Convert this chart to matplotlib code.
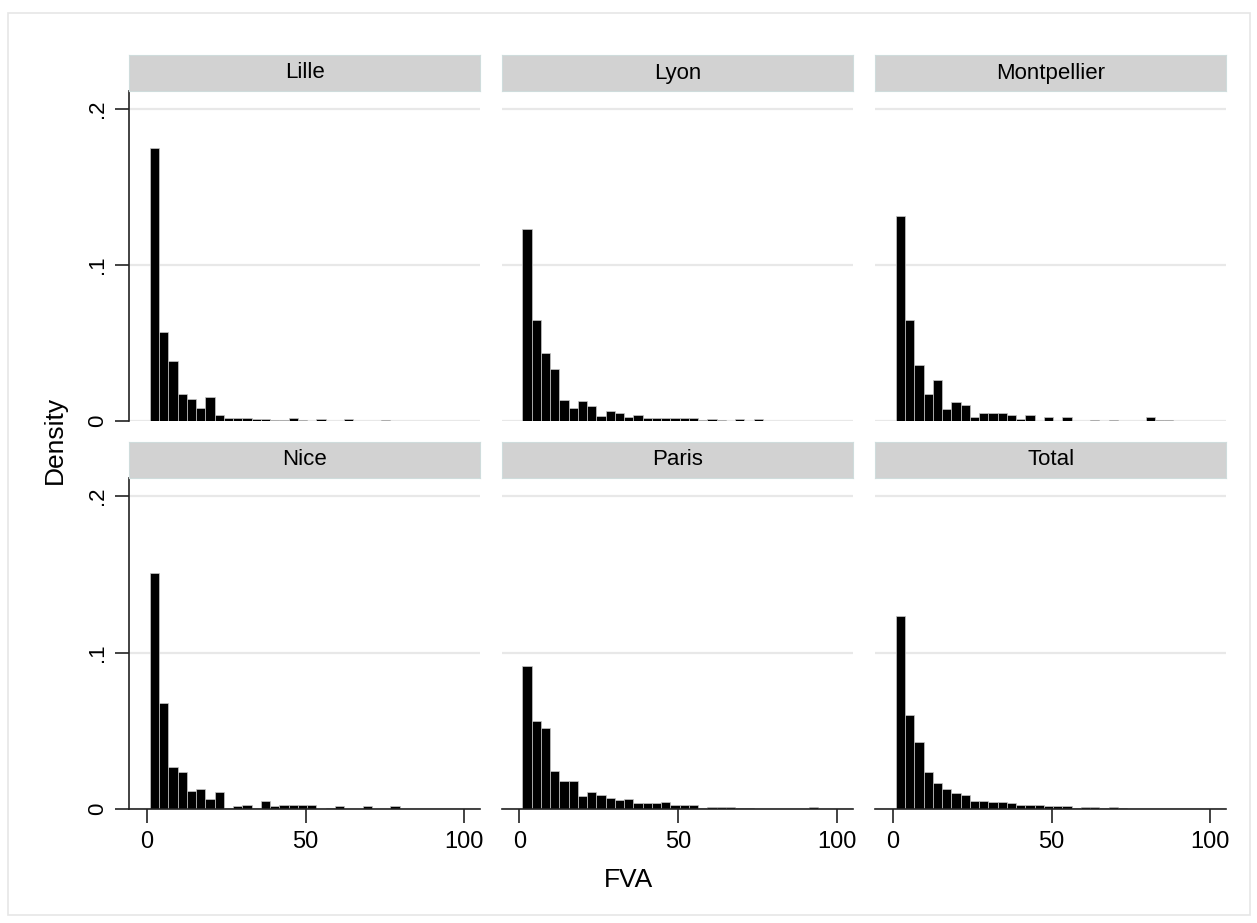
import numpy as np
import matplotlib
matplotlib.use("Agg")
from matplotlib import pyplot as plt
from matplotlib.patches import Rectangle

plt.rcParams['font.family'] = ['Liberation Sans', 'DejaVu Sans']

# 34 bins from 1 to 100 (same bins for every panel)
bin_edges = np.linspace(1, 100, 35)

panels = ["Lille", "Lyon", "Montpellier", "Nice", "Paris", "Total"]

lille = [0.175, 0.0568, 0.0385, 0.0172, 0.0138, 0.0082, 0.0153, 0.0034, 0.0017, 0.0017,
         0.0017, 0.0013, 0.0013, 0.0006, 0.0006, 0.0015, 0.0004, 0, 0.0013, 0,
         0, 0.0013, 0, 0, 0, 0.0005, 0, 0, 0, 0, 0, 0, 0, 0]
lyon = [0.1228, 0.0649, 0.0434, 0.0331, 0.0133, 0.0082, 0.0127, 0.0092, 0.0032, 0.0062,
        0.0049, 0.0024, 0.0039, 0.0015, 0.0017, 0.0015, 0.0015, 0.0017, 0.0015, 0.0006,
        0.0013, 0.0002, 0, 0.0013, 0, 0.0013, 0, 0, 0, 0, 0, 0, 0, 0]
montpellier = [0.1316, 0.0649, 0.0355, 0.0172, 0.0260, 0.0077, 0.0118, 0.0103, 0.0022, 0.0049,
               0.0049, 0.0049, 0.0039, 0.0009, 0.0039, 0, 0.0022, 0, 0.0022, 0,
               0, 0.0004, 0, 0.0004, 0, 0, 0, 0.0022, 0.0006, 0.0006, 0, 0, 0, 0]
nice = [0.151, 0.0677, 0.0266, 0.0234, 0.0117, 0.0128, 0.0064, 0.0106, 0.0004, 0.0017,
        0.0026, 0.0004, 0.0051, 0.0017, 0.0028, 0.0028, 0.0028, 0.0028, 0.0002, 0.0006,
        0.0017, 0, 0, 0.0017, 0, 0, 0.0017, 0, 0, 0, 0, 0, 0, 0]
paris = [0.0917, 0.0560, 0.0517, 0.0243, 0.0179, 0.0179, 0.0081, 0.0106, 0.0087, 0.0070,
         0.0055, 0.0066, 0.0038, 0.0038, 0.0038, 0.0045, 0.0028, 0.0023, 0.0028, 0.0008,
         0.0013, 0.0010, 0.0013, 0.0008, 0.0005, 0, 0, 0, 0, 0, 0, 0.0012, 0, 0]
total = [0.1234, 0.0598, 0.0426, 0.0238, 0.0166, 0.0128, 0.0103, 0.0090, 0.0048, 0.0054,
         0.0047, 0.0043, 0.0037, 0.0023, 0.0027, 0.0027, 0.0021, 0.0018, 0.0017, 0.0007,
         0.0012, 0.0012, 0.0006, 0.0011, 0.0004, 0.0003, 0.0003, 0.0003, 0.0002, 0.0002,
         0.0002, 0.0002, 0, 0]
heights = [lille, lyon, montpellier, nice, paris, total]

yticks = [0, 0.1, 0.2]
ytick_labels = ["0", ".1", ".2"]
xticks = [0, 50, 100]
xtick_labels = ["0", "50", "100"]

W, H = 1257, 923
fig = plt.figure(figsize=(W / 100, H / 100), dpi=100)
fig.patch.set_facecolor("white")

# faint outer frame like the stata graph region
fig.patches.append(Rectangle((8 / W, 1 - 915 / H), 1242 / W, 902 / H, transform=fig.transFigure,
                             fill=False, edgecolor="#e6e6e6", lw=1.2))

col_left = [129.3, 501.8, 875.3]
panel_w = 351
row_top = [91, 478]
row_bot = [420.7, 809]
strip_h = 36

widths = np.diff(bin_edges)

for i, name in enumerate(panels):
    r, c = divmod(i, 3)
    left = col_left[c]
    top = row_top[r]
    bot = row_bot[r]
    ax = fig.add_axes([left / W, 1 - bot / H, panel_w / W, (bot - top) / H])
    ax.bar(bin_edges[:-1], heights[i], width=widths, align="edge",
           color="black", edgecolor="#c8c8c8", linewidth=0.5, zorder=2)
    ax.set_xlim(-5.5, 105)
    ax.set_ylim(0, 0.2116)
    ax.set_yticks(yticks)
    ax.set_xticks(xticks)
    ax.yaxis.grid(True, color="#e8e8e8", lw=1.6, zorder=0)
    ax.set_axisbelow(True)
    for s in ["top", "right"]:
        ax.spines[s].set_visible(False)
    ax.spines["left"].set_visible(c == 0)
    ax.spines["bottom"].set_visible(r == 1)
    ax.spines["left"].set_color("#222222")
    ax.spines["bottom"].set_color("#222222")
    ax.spines["left"].set_linewidth(1.2)
    ax.spines["bottom"].set_linewidth(1.2)

    if c == 0:
        ax.set_yticklabels(ytick_labels)
        ax.tick_params(axis="y", length=10, width=1.2, color="#222222", labelsize=16, pad=5)
        for lab in ax.get_yticklabels():
            lab.set_rotation(90)
            lab.set_va("center")
    else:
        ax.tick_params(axis="y", length=0, labelleft=False)
    if r == 1:
        ax.set_xticklabels(xtick_labels)
        ax.tick_params(axis="x", length=10, width=1.2, color="#222222", labelsize=17, pad=6)
    else:
        ax.tick_params(axis="x", length=0, labelbottom=False)

    sax = fig.add_axes([left / W, 1 - top / H, panel_w / W, strip_h / H])
    sax.set_facecolor("#d2d2d2")
    sax.set_xticks([])
    sax.set_yticks([])
    for s in sax.spines.values():
        s.set_color("#cfdcdc")
        s.set_linewidth(0.8)
    sax.text(0.5, 0.5, name, ha="center", va="center", fontsize=16, transform=sax.transAxes)

fig.text(55 / W, 1 - 440 / H, "Density", rotation=90, ha="center", va="center", fontsize=19)
fig.text(628 / W, 1 - 880 / H, "FVA", ha="center", va="center", fontsize=19)

plt.savefig("out.png", dpi=100)
plt.close()
